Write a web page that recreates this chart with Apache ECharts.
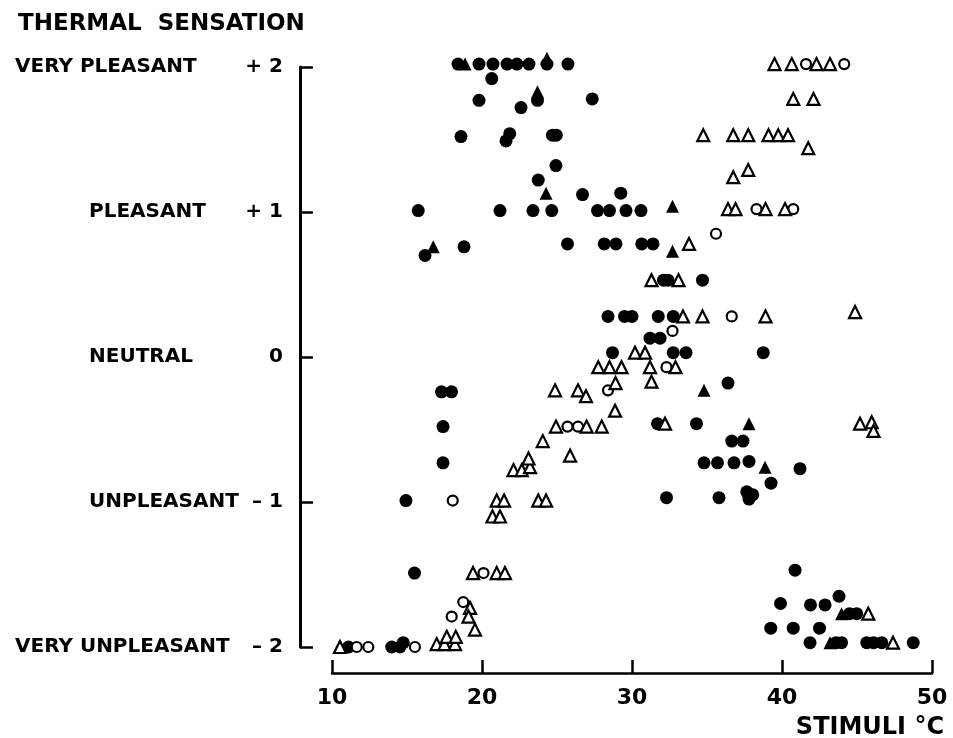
<!DOCTYPE html>
<html>
<head>
<meta charset="utf-8">
<script src="https://cdn.jsdelivr.net/npm/echarts@6/dist/echarts.min.js"></script>
<style>html,body{margin:0;padding:0;background:#fff}#c{width:953px;height:738px}</style>
</head>
<body>
<div id="c"></div>
<script>
// ---- data ----
const yTickValues = ['+ 2', '+ 1', '0', '– 1', '– 2'];
const yTickNames = ['VERY PLEASANT', 'PLEASANT', 'NEUTRAL', 'UNPLEASANT', 'VERY UNPLEASANT'];
const xTickLabels = ['10', '20', '30', '40', '50'];
const titleText = 'THERMAL  SENSATION';
const xTitleText = 'STIMULI °C';

const filledCircles = [
  [18.4,2.02],[19.8,2.02],[20.73,2.02],[21.67,2.02],[22.33,2.02],[23.13,2.02],[24.33,2.02],[25.73,2.02],
  [20.65,1.92],[19.8,1.77],[22.6,1.72],[23.7,1.77],[27.35,1.78],
  [18.6,1.52],[21.6,1.49],[21.85,1.54],[24.7,1.53],[24.95,1.53],
  [24.93,1.32],[23.75,1.22],[26.7,1.12],[29.25,1.13],
  [15.75,1.01],[21.2,1.01],[23.4,1.01],[24.65,1.01],[27.7,1.01],[28.5,1.01],[29.6,1.01],[30.6,1.01],
  [16.2,0.70],[18.8,0.76],[25.7,0.78],[28.15,0.78],[28.93,0.78],[30.65,0.78],[31.4,0.78],
  [32.1,0.53],[32.4,0.53],[34.7,0.53],
  [28.4,0.28],[29.5,0.28],[30.0,0.28],[31.75,0.28],[32.75,0.28],
  [31.2,0.13],[31.87,0.13],
  [28.7,0.03],[32.75,0.03],[33.6,0.03],[38.75,0.03],
  [17.3,-0.24],[17.97,-0.24],[36.4,-0.18],
  [17.4,-0.48],[31.7,-0.46],[34.3,-0.46],
  [36.65,-0.58],[37.4,-0.58],
  [17.4,-0.73],[34.8,-0.73],[35.7,-0.73],[36.8,-0.73],[37.8,-0.72],[41.2,-0.77],[39.27,-0.87],
  [14.93,-0.99],[32.3,-0.97],[35.8,-0.97],[37.65,-0.93],[38.05,-0.95],[37.8,-0.98],
  [15.5,-1.49],[40.87,-1.47],
  [39.9,-1.70],[41.9,-1.71],[42.87,-1.71],[43.8,-1.65],
  [44.5,-1.77],[44.98,-1.77],
  [39.25,-1.87],[40.75,-1.87],[42.5,-1.87],
  [41.87,-1.97],[43.6,-1.97],[43.97,-1.97],[45.65,-1.97],[46.1,-1.97],[46.65,-1.97],[48.75,-1.97],
  [11.1,-2.0],[13.98,-2.0],[14.53,-2.0],[14.75,-1.97]
];

const filledTriangles = [
  [18.87,2.02],[24.33,2.06],[23.7,1.83],[24.27,1.13],[32.7,1.04],[16.75,0.76],[32.7,0.73],
  [34.8,-0.23],[37.8,-0.46],[38.87,-0.76],[43.97,-1.77],[43.2,-1.97]
];

const openCircles = [
  [41.6,2.02],[44.15,2.02],[38.3,1.02],[40.75,1.02],[35.6,0.85],[36.65,0.28],[32.7,0.18],
  [32.3,-0.07],[28.4,-0.23],[25.7,-0.48],[26.4,-0.48],[18.05,-0.99],[20.1,-1.49],
  [18.75,-1.69],[17.98,-1.79],[11.65,-2.0],[12.42,-2.0],[15.53,-2.0]
];

const openTriangles = [
  [39.5,2.02],[40.65,2.02],[42.3,2.02],[43.2,2.02],
  [40.75,1.78],[42.1,1.78],
  [34.75,1.53],[36.75,1.53],[37.75,1.53],[39.1,1.53],[39.75,1.53],[40.4,1.53],[41.75,1.44],
  [36.75,1.24],[37.75,1.29],
  [36.4,1.02],[36.9,1.02],[38.9,1.02],[40.2,1.02],
  [33.8,0.78],
  [31.3,0.53],[33.1,0.53],
  [33.4,0.28],[34.7,0.28],[38.9,0.28],[44.87,0.31],
  [30.2,0.03],[30.87,0.03],
  [27.75,-0.07],[28.5,-0.07],[29.3,-0.07],[31.2,-0.07],[32.9,-0.07],
  [28.9,-0.18],[31.3,-0.17],
  [24.87,-0.23],[26.4,-0.23],[26.93,-0.27],
  [28.87,-0.37],
  [24.93,-0.48],[26.97,-0.48],[27.98,-0.48],[32.2,-0.46],
  [45.2,-0.46],[45.98,-0.45],[46.1,-0.51],
  [24.05,-0.58],[25.87,-0.68],
  [22.1,-0.78],[22.65,-0.78],[23.2,-0.76],[23.1,-0.70],
  [20.98,-0.99],[21.47,-0.99],[23.75,-0.99],[24.27,-0.99],
  [20.7,-1.10],[21.2,-1.10],
  [19.4,-1.49],[20.98,-1.49],[21.53,-1.49],
  [19.2,-1.73],[19.1,-1.79],[19.53,-1.88],
  [45.75,-1.77],[47.4,-1.97],
  [10.53,-2.0],[16.98,-1.98],[17.5,-1.98],[18.2,-1.98],[17.65,-1.93],[18.25,-1.93]
];

// ---- chart ----
const FONT = 'DejaVu Sans';
const INK = '#000';
const chart = echarts.init(document.getElementById('c'), null, {renderer: 'canvas'});

function yIndex(v) { return Math.round(2 - v); }

chart.setOption({
  animation: false,
  backgroundColor: '#fff',
  title: [
    {text: titleText, left: 13, top: 8,
     textStyle: {fontFamily: FONT, fontWeight: 'bold', fontSize: 23, color: INK}},
    {text: xTitleText, right: 4, top: 711,
     textStyle: {fontFamily: FONT, fontWeight: 'bold', fontSize: 24, color: INK}}
  ],
  grid: {left: 332, right: 21, top: 67, bottom: 91, containLabel: false},
  xAxis: {
    type: 'value', min: 10, max: 50, interval: 10, offset: 26,
    axisLine: {show: true, onZero: false, lineStyle: {color: INK, width: 2.5}},
    axisTick: {show: true, inside: true, length: 13, lineStyle: {color: INK, width: 2.5}},
    splitLine: {show: false},
    axisLabel: {margin: 14, fontFamily: FONT, fontWeight: 'bold', fontSize: 22, color: INK,
      formatter: v => xTickLabels[Math.round((v - 10) / 10)]}
  },
  yAxis: [
    {
      type: 'value', min: -2, max: 2, interval: 1, offset: 32, position: 'left',
      axisLine: {show: true, onZero: false, lineStyle: {color: INK, width: 3}},
      axisTick: {show: true, inside: true, length: 13, lineStyle: {color: INK, width: 2.5}},
      splitLine: {show: false},
      axisLabel: {margin: 17, fontFamily: FONT, fontWeight: 'bold', fontSize: 20, color: INK,
        formatter: v => yTickValues[yIndex(v)]}
    },
    {
      type: 'value', min: -2, max: 2, interval: 1, offset: 32, position: 'left',
      axisLine: {show: false, onZero: false}, axisTick: {show: false}, splitLine: {show: false},
      axisLabel: {margin: 285, align: 'left', fontFamily: FONT, fontWeight: 'bold', fontSize: 20, color: INK,
        formatter: v => {
          const n = yTickNames[yIndex(v)];
          return n.indexOf('VERY') === 0 ? '{a|' + n + '}' : '{b|' + n + '}';
        },
        rich: {
          a: {fontFamily: FONT, fontWeight: 'bold', fontSize: 20, color: INK},
          b: {fontFamily: FONT, fontWeight: 'bold', fontSize: 20, color: INK, padding: [0, 0, 0, 74]}
        }
      }
    }
  ],
  series: [
    {type: 'scatter', name: 'filled circle', data: filledCircles, symbol: 'circle', symbolSize: 13,
     clip: false, itemStyle: {color: INK, opacity: 1}},
    {type: 'scatter', name: 'filled triangle', data: filledTriangles, symbol: 'triangle', symbolSize: 13,
     clip: false, itemStyle: {color: INK, opacity: 1}},
    {type: 'scatter', name: 'open circle', data: openCircles, symbol: 'circle', symbolSize: 10,
     clip: false, itemStyle: {color: '#fff', borderColor: INK, borderWidth: 2.2, opacity: 1}},
    {type: 'scatter', name: 'open triangle', data: openTriangles, symbol: 'triangle', symbolSize: 12,
     clip: false, itemStyle: {color: '#fff', borderColor: INK, borderWidth: 2.2, opacity: 1}}
  ]
});
</script>
</body>
</html>
